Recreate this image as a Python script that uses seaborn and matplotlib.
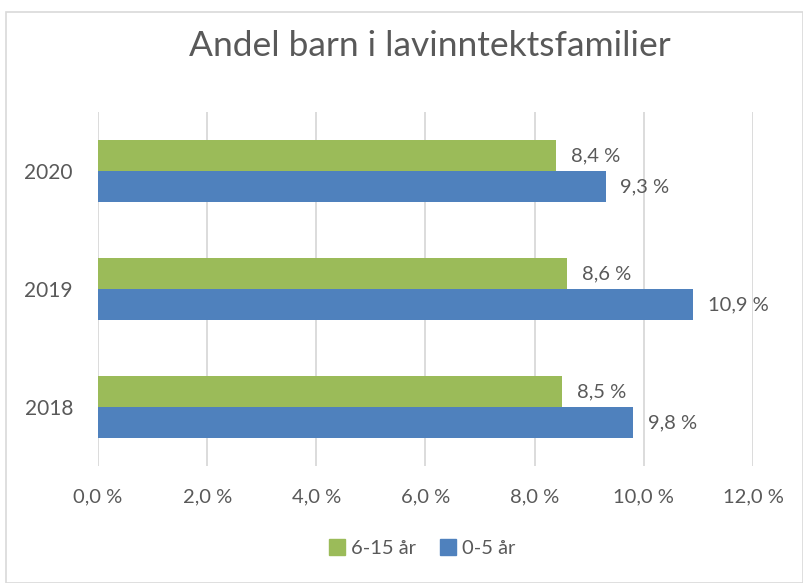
import matplotlib
matplotlib.use("Agg")
import matplotlib.pyplot as plt
import seaborn as sns
import pandas as pd
from matplotlib.patches import Rectangle

years = ["2020", "2019", "2018"]
series = ["6-15 år", "0-5 år"]
vals_6_15 = [8.4, 8.6, 8.5]
vals_0_5 = [9.3, 10.9, 9.8]
xticks = [0, 2, 4, 6, 8, 10, 12]

rows = []
for y, a, b in zip(years, vals_6_15, vals_0_5):
    rows.append({"year": y, "serie": series[0], "val": a})
    rows.append({"year": y, "serie": series[1], "val": b})
df = pd.DataFrame(rows)

sns.set_theme(style="white")
plt.rcParams["font.family"] = ["Lato", "DejaVu Sans"]
txt = "#595959"
colors = {"6-15 år": "#9BBB59", "0-5 år": "#4F81BD"}

fig = plt.figure(figsize=(8.04, 5.83), dpi=100)
ax = fig.add_axes([98/804, 1-466/583, (753-98)/804, (466-112)/583])

sns.barplot(data=df, y="year", x="val", hue="serie", order=years, hue_order=series,
            palette=colors, orient="h", width=0.525, gap=0, saturation=1,
            ax=ax, legend=False, edgecolor="none")

ax.set_xlim(0, 12)
ax.set_ylim(2.5, -0.5)
ax.set_xticks(xticks)
ax.set_xticklabels([f"{v:.1f} %".replace(".", ",") for v in xticks], color=txt, fontsize=14.5)
ax.tick_params(axis="y", labelcolor=txt, labelsize=15, length=0, pad=18)
ax.tick_params(axis="x", length=0, pad=16)
ax.set_xlabel("")
ax.set_ylabel("")
ax.grid(axis="x", color="#D9D9D9", linewidth=1.3)
ax.set_axisbelow(True)
for s in ax.spines.values():
    s.set_visible(False)

for cont in ax.containers:
    for bar in cont:
        w = bar.get_width()
        yc = bar.get_y() + bar.get_height() / 2
        ax.annotate(f"{w:.1f} %".replace(".", ","), (w, yc), xytext=(10.5, 0),
                    textcoords="offset points", ha="left", va="center",
                    color=txt, fontsize=14.5)

fig.text(430/804, 1-46/583, "Andel barn i lavinntektsfamilier", ha="center", va="center",
         color=txt, fontsize=25.5)

# legend
handles = [plt.Rectangle((0, 0), 1, 1, color=colors[s]) for s in series]
fig.legend(handles, series, loc="center", bbox_to_anchor=(422/804, 1-548/583), ncol=2,
           frameon=False, fontsize=14.5, labelcolor=txt, handlelength=0.8, handleheight=0.8,
           handletextpad=0.3, columnspacing=1.2)

fig.patches.append(Rectangle((6/804, 0.5/583), (803-6)/804 - 0.0005, (583-12.5)/583,
                             transform=fig.transFigure, fill=False, edgecolor="#D9D9D9",
                             linewidth=1.2))

fig.savefig("out.png", dpi=100)
